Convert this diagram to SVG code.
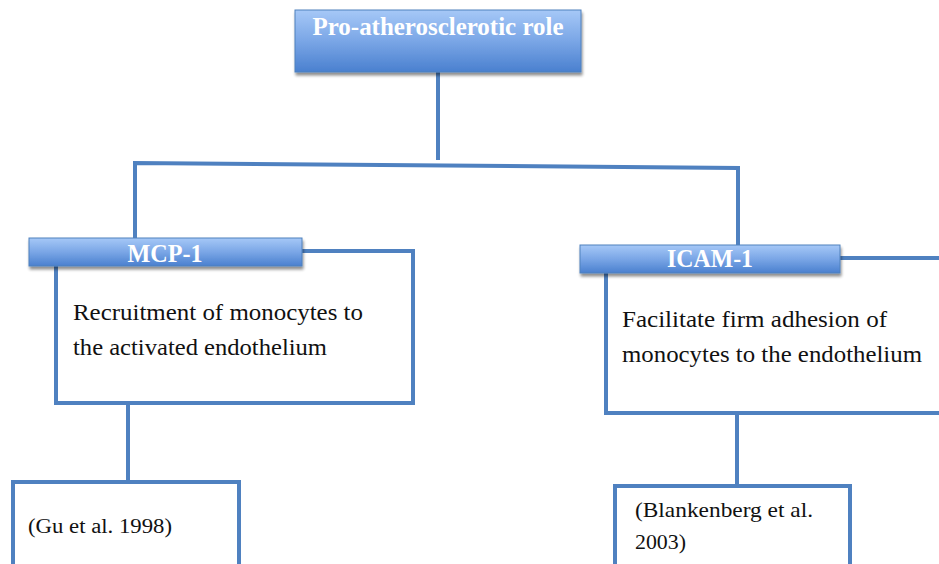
<svg xmlns="http://www.w3.org/2000/svg" width="939" height="564" viewBox="0 0 939 564">
<defs>
<linearGradient id="hg" x1="0" y1="0" x2="0" y2="1">
<stop offset="0" stop-color="#a6c8f7"/>
<stop offset="0.5" stop-color="#7aa6e6"/>
<stop offset="1" stop-color="#4a80cf"/>
</linearGradient>
<filter id="sh" x="-10%" y="-20%" width="120%" height="160%">
<feGaussianBlur in="SourceAlpha" stdDeviation="1.5"/>
<feOffset dx="1" dy="3" result="b"/>
<feComponentTransfer><feFuncA type="linear" slope="0.45"/></feComponentTransfer>
<feMerge><feMergeNode/><feMergeNode in="SourceGraphic"/></feMerge>
</filter>
</defs>
<style>
.ln{fill:none;stroke:#4f81c0;stroke-width:4}
.bx{fill:#ffffff;stroke:#4f81c0;stroke-width:4}
.hd{fill:url(#hg);stroke:#4f81bd;stroke-width:1;filter:url(#sh)}
.ht{font-family:"Liberation Serif","Times New Roman","DejaVu Serif",serif;font-weight:bold;fill:#ffffff;text-anchor:middle}
.bt{font-family:"Liberation Serif","Times New Roman","DejaVu Serif",serif;fill:#111111}
</style>
<rect width="939" height="564" fill="#ffffff"/>
<g id="connectors">
<path class="ln" d="M438 72 V160"/>
<path class="ln" d="M135 242 V163 L738 168 V248"/>
<path class="ln" d="M128 403 V482"/>
<path class="ln" d="M737 413 V486"/>
</g>
<g id="pro">
<rect class="hd" x="295" y="10" width="286" height="62"/>
<text class="ht" x="438" y="35" font-size="26" textLength="251" lengthAdjust="spacingAndGlyphs">Pro-atherosclerotic role</text>
</g>
<g id="mcp1">
<rect class="bx" x="56" y="251" width="357" height="152"/>
<rect class="hd" x="29" y="238" width="273" height="28"/>
<text class="ht" x="165" y="262" font-size="26" textLength="75" lengthAdjust="spacingAndGlyphs">MCP-1</text>
<text class="bt" x="73" y="320" font-size="24" textLength="290" lengthAdjust="spacingAndGlyphs">Recruitment of monocytes to</text>
<text class="bt" x="73" y="355" font-size="24" textLength="254" lengthAdjust="spacingAndGlyphs">the activated endothelium</text>
</g>
<g id="icam1">
<rect class="bx" x="606" y="258" width="345" height="155"/>
<rect class="hd" x="580" y="245" width="260" height="28"/>
<text class="ht" x="710" y="267" font-size="26" textLength="86" lengthAdjust="spacingAndGlyphs">ICAM-1</text>
<text class="bt" x="622" y="327" font-size="24" textLength="265" lengthAdjust="spacingAndGlyphs">Facilitate firm adhesion of</text>
<text class="bt" x="622" y="362" font-size="24" textLength="300" lengthAdjust="spacingAndGlyphs">monocytes to the endothelium</text>
</g>
<g id="gu">
<rect class="bx" x="13" y="482" width="226" height="100"/>
<text class="bt" x="28" y="533" font-size="20" textLength="144" lengthAdjust="spacingAndGlyphs">(Gu et al. 1998)</text>
</g>
<g id="blank">
<rect class="bx" x="615" y="486" width="235" height="100"/>
<text class="bt" x="635" y="517" font-size="21" textLength="178" lengthAdjust="spacingAndGlyphs">(Blankenberg et al.</text>
<text class="bt" x="635" y="549" font-size="21" textLength="51" lengthAdjust="spacingAndGlyphs">2003)</text>
</g>
</svg>
